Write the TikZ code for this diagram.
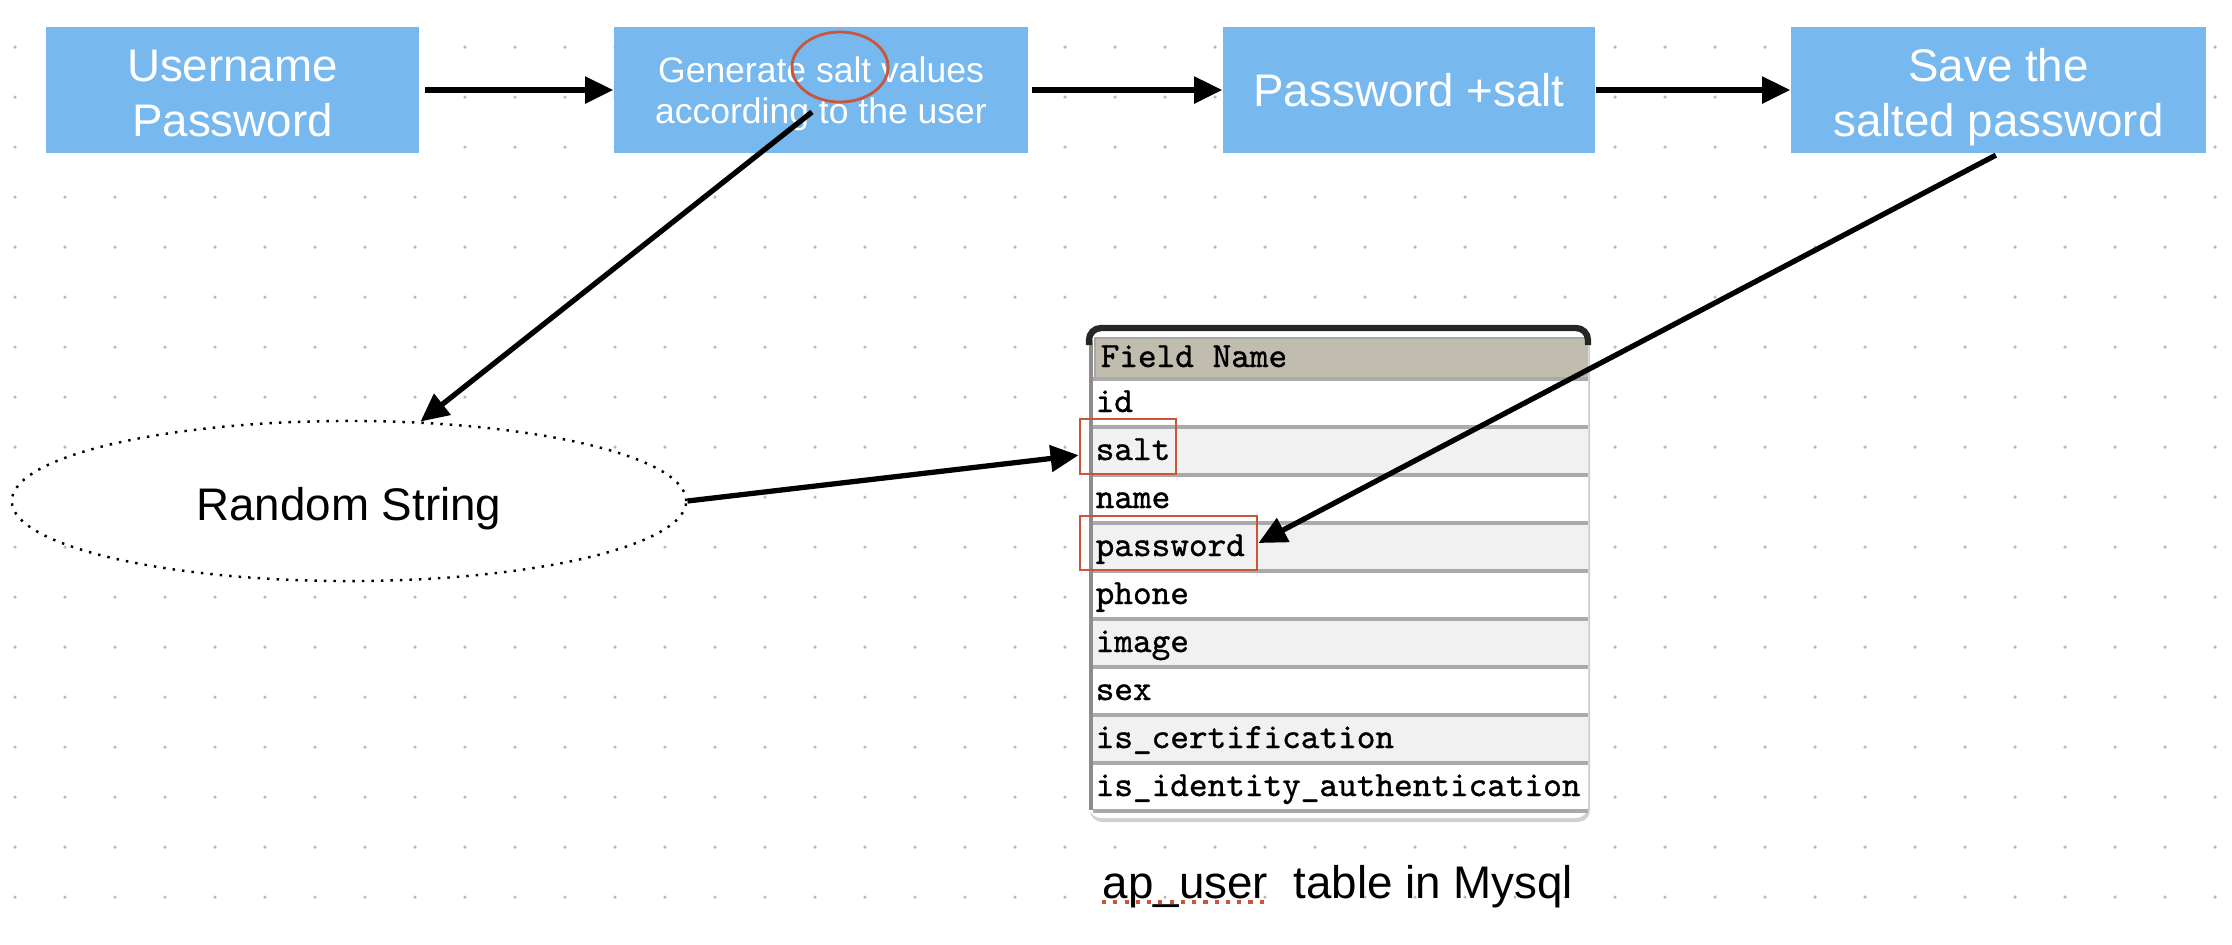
\documentclass[tikz,border=0pt]{standalone}
\usepackage{fontspec}
\setmainfont{Liberation Sans}
\newfontfamily\fieldmono{lmmono10-regular.otf}[FakeBold=1]
\usetikzlibrary{positioning,shapes,arrows.meta,backgrounds,fit,calc}
\definecolor{boxblue}{RGB}{119,184,239}
\definecolor{markred}{RGB}{201,86,58}
\definecolor{headtan}{RGB}{192,188,174}
\definecolor{rowgray}{RGB}{241,241,241}
\definecolor{linegray}{RGB}{170,170,170}
\definecolor{dotgray}{RGB}{185,185,185}
\newcommand{\flowfont}{\fontsize{13}{15.7}\selectfont}
\newcommand{\smallflowfont}{\fontsize{10.1}{11.4}\selectfont}
\newcommand{\fieldfont}{\fieldmono\fontsize{10.1}{11}\selectfont}
\tikzset{
  flowbox/.style={fill=boxblue, text=white, align=center, inner sep=0pt, minimum height=1.26cm},
  flowarrow/.style={-{Triangle[length=0.28cm,width=0.26cm]}, line width=1.5pt},
  markbox/.style={draw=markred, line width=0.8pt, inner sep=0pt},
}

\begin{document}
\begin{tikzpicture}[x=0.01cm,y=-0.01cm]
\useasboundingbox (0,0) rectangle (2232,944);

% Dot grid
\foreach \gx in {0,...,44}
  \foreach \gy in {0,...,17}
    \fill[dotgray] (15+50*\gx,47+50*\gy) circle (0.5pt);

% Top row
\node[flowbox, minimum width=3.73cm, font=\flowfont] (user) at (232.5,90) {\rule{0pt}{10.8pt}Username\\Password};
\node[flowbox, minimum width=4.14cm, font=\smallflowfont] (gen) at (821,90) {\rule{0pt}{9.5pt}Generate salt values\\according to the user};
\node[flowbox, minimum width=3.72cm, font=\flowfont] (pws) at (1409,90) {Password +salt};
\node[flowbox, minimum width=4.15cm, font=\flowfont] (save) at (1998.5,90) {\rule{0pt}{13.4pt}Save the\\salted password};
\draw[markred, line width=0.8pt] (840,67) ellipse [x radius=0.48cm, y radius=0.35cm];

% Random string
\node[ellipse, draw, dotted, line width=0.7pt, fill=white, minimum width=6.74cm, minimum height=1.6cm,
  inner sep=0pt, text height=11pt, text depth=0pt, font=\flowfont] (rand) at (349,501) {Random String};

% Table
\fill[black!18, rounded corners=0.12cm] (1090,333) rectangle (1590,822);
\fill[white, rounded corners=0.12cm] (1089,328) rectangle (1588,818);
\fill[headtan] (1095,338) rectangle (1588,377);
\draw[black!35, line width=0.5pt] (1095,377) -- (1095,338) -- (1588,338);
\node[anchor=base west, font=\fieldfont, inner sep=0pt] (fieldhead) at (1100,367) {Field Name};
\foreach \fname [count=\i] in {id,salt,name,password,phone,image,sex,is\_certification,is\_identity\_authentication} {
  \pgfmathsetmacro{\rtop}{379+48*(\i-1)}
  \ifodd\i\else
    \fill[rowgray] (1093,\rtop) rectangle (1588,\rtop+48);
  \fi
  \draw[linegray, line width=1.1pt] (1093,\rtop) -- (1588,\rtop);
  \node[anchor=base west, font=\fieldfont, inner sep=0pt] (row\i) at (1095,\rtop+33) {\fname};
}
\draw[linegray, line width=1.1pt] (1093,811) -- (1588,811);
\draw[black!45, line width=1.2pt] (1091,340) -- (1091,810);
\draw[black!85, line width=1.8pt, rounded corners=0.12cm] (1089,345) -- (1089,328) -- (1588,328) -- (1588,345);

\node[markbox, minimum width=0.96cm, minimum height=0.55cm] (saltbox) at (1128,446.5) {};
\node[markbox, minimum width=1.77cm, minimum height=0.54cm] (pwbox) at (1168.5,543) {};

% Caption
\node[anchor=base, font=\flowfont, inner sep=0pt] (caption) at (1338,898) {ap\_user\ \ table in Mysql};
\draw[markred, dotted, line width=1.2pt] (1102,902) -- (1267,902);

% Arrows
\coordinate (saltsrc) at (812,112);
\draw[flowarrow, shorten <=0.05cm] (user) -- (gen);
\draw[flowarrow, shorten <=0.03cm] (gen) -- (pws);
\draw[flowarrow] (pws) -- (save);
\draw[flowarrow] (saltsrc) -- (rand.48);
\draw[flowarrow] (rand.east) -- (saltbox.190);
\draw[flowarrow, shorten <=0.03cm] (save.south) -- (pwbox.east);

\end{tikzpicture}
\end{document}
